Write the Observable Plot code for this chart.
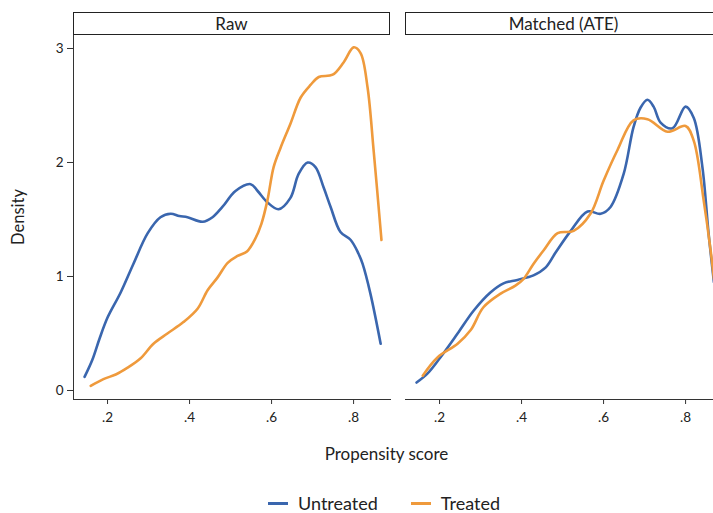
<!DOCTYPE html>
<html><head><meta charset="utf-8">
<script src="https://cdn.jsdelivr.net/npm/d3@7"></script>
<script src="https://cdn.jsdelivr.net/npm/@observablehq/plot@0.6"></script>
<style>
html,body{margin:0;padding:0;background:#fff;overflow:hidden;width:713px;height:513px}
#chart{position:relative;width:722px;height:513px;font-family:Lato,sans-serif;color:#222}
#legend{position:absolute;left:268px;top:492px;display:flex;align-items:center;font-size:18px;font-family:Lato,sans-serif;color:#222}
#legend .sw{display:inline-block;width:20px;height:3px;margin-right:10px}
#legend .item{display:flex;align-items:center;margin-right:33px}
</style></head><body><div id="chart"></div><script>
const panels = ["Raw", "Matched (ATE)"];
const groups = ["Untreated", "Treated"];
const groupColors = ["#3a66ae", "#ef9a3c"];
const xTicks = [0.2, 0.4, 0.6, 0.8];
const yTicks = [0, 1, 2, 3];
const xLabel = "Propensity score";
const yLabel = "Density";

const rawUntreated = [[.144,.12],[.163,.27],[.18,.45],[.2,.64],[.232,.86],[.263,1.11],[.298,1.38],[.329,1.52],[.354,1.55],[.375,1.53],[.395,1.52],[.432,1.48],[.456,1.52],[.48,1.61],[.512,1.75],[.549,1.81],[.566,1.75],[.59,1.65],[.617,1.59],[.646,1.69],[.666,1.90],[.688,2.00],[.707,1.96],[.727,1.78],[.744,1.61],[.768,1.39],[.793,1.32],[.812,1.20],[.822,1.11],[.841,.85],[.866,.41]];
const rawTreated = [[.159,.04],[.19,.1],[.22,.14],[.249,.2],[.28,.28],[.312,.41],[.346,.5],[.385,.6],[.42,.72],[.444,.88],[.468,.99],[.493,1.12],[.517,1.18],[.54,1.22],[.56,1.33],[.575,1.46],[.59,1.67],[.605,1.96],[.622,2.13],[.646,2.34],[.671,2.57],[.695,2.68],[.715,2.75],[.749,2.77],[.776,2.88],[.8,3.01],[.817,2.96],[.834,2.66],[.849,2.1],[.868,1.32]];
const matchedUntreated = [[.144,.07],[.171,.15],[.202,.29],[.244,.5],[.283,.70],[.324,.86],[.356,.94],[.39,.97],[.429,1.01],[.459,1.08],[.483,1.21],[.52,1.40],[.561,1.57],[.593,1.55],[.617,1.61],[.649,1.90],[.673,2.31],[.69,2.48],[.707,2.55],[.722,2.49],[.739,2.35],[.768,2.30],[.8,2.49],[.82,2.39],[.841,1.96],[.856,1.38],[.869,.95]];
const matchedTreated = [[.159,.13],[.195,.29],[.244,.41],[.276,.53],[.307,.73],[.349,.85],[.385,.92],[.405,.98],[.429,1.11],[.454,1.23],[.488,1.38],[.527,1.40],[.568,1.55],[.6,1.84],[.634,2.11],[.673,2.37],[.707,2.38],[.756,2.27],[.8,2.32],[.82,2.19],[.844,1.67],[.861,1.23],[.869,.98]];

const rows = [];
function add(panel, group, pts) { for (const [x, y] of pts) rows.push({panel, group, x, y}); }
add(panels[0], groups[0], rawUntreated);
add(panels[0], groups[1], rawTreated);
add(panels[1], groups[0], matchedUntreated);
add(panels[1], groups[1], matchedTreated);

const fmt = d => d3.format(".1f")(d).replace(/^0/, "");
const axisColor = "#333";

const plot = Plot.plot({
  width: 722, height: 470,
  marginLeft: 73, marginRight: 0, marginTop: 35, marginBottom: 71,
  style: {fontFamily: "Lato, sans-serif", fontSize: "13.5px", color: "#222", background: "#fff"},
  fx: {domain: panels, paddingInner: 0.0452, paddingOuter: 0, axis: null, label: null},
  x: {domain: [0.117, 0.89]},
  y: {domain: [-0.079, 3.114]},
  color: {domain: groups, range: groupColors},
  marks: [
    Plot.frame({anchor: "left", facetAnchor: "left", stroke: axisColor, strokeOpacity: 1}),
    Plot.frame({anchor: "bottom", stroke: axisColor, strokeOpacity: 1}),
    Plot.axisY({ticks: yTicks, tickSize: 6, tickPadding: 4, tickFormat: d3.format("d"), label: null, stroke: axisColor, strokeOpacity: 1}),
    Plot.axisX({ticks: xTicks, tickSize: 5, tickPadding: 8, tickFormat: fmt, label: null, stroke: axisColor, strokeOpacity: 1}),
    Plot.line(rows, {fx: "panel", x: "x", y: "y", z: "group", stroke: "group", strokeWidth: 2.6, curve: "catmull-rom"})
  ]
});

const chart = document.getElementById("chart");
chart.appendChild(plot);

// facet strips and axis titles, positioned with the plot's own scales
const svg = d3.select(plot);
const fxScale = plot.scale("fx");
const stripH = 23;
const frameTop = 35;
for (const p of panels) {
  const x0 = fxScale.apply(p);
  const bw = fxScale.bandwidth;
  svg.append("rect").attr("x", x0 + 0.5).attr("y", frameTop - stripH + 0.5)
    .attr("width", bw - 1).attr("height", stripH - 1)
    .attr("fill", "#fff").attr("stroke", "#222").attr("stroke-width", 1);
  svg.append("text").attr("x", x0 + bw / 2).attr("y", frameTop - stripH / 2)
    .attr("dy", "0.36em").attr("text-anchor", "middle")
    .attr("font-size", 17).attr("fill", "#222").text(p);
}
const yS = plot.scale("y");
const yMid = (yS.range[0] + yS.range[1]) / 2;
svg.append("text").attr("transform", `translate(18,${yMid}) rotate(-90)`)
  .attr("text-anchor", "middle").attr("dy", "0.36em").attr("font-size", 16.5).attr("fill", "#222").text(yLabel);
svg.append("text").attr("x", (fxScale.range[0] + 700) / 2).attr("y", 454)
  .attr("text-anchor", "middle").attr("dy", "0.36em").attr("font-size", 17).attr("fill", "#222").text(xLabel);

// legend
const legend = document.createElement("div");
legend.id = "legend";
groups.forEach((g, i) => {
  const item = document.createElement("div");
  item.className = "item";
  const sw = document.createElement("span");
  sw.className = "sw";
  sw.style.background = groupColors[i];
  const t = document.createElement("span");
  t.textContent = g;
  item.appendChild(sw); item.appendChild(t);
  legend.appendChild(item);
});
chart.appendChild(legend);
</script></body></html>
